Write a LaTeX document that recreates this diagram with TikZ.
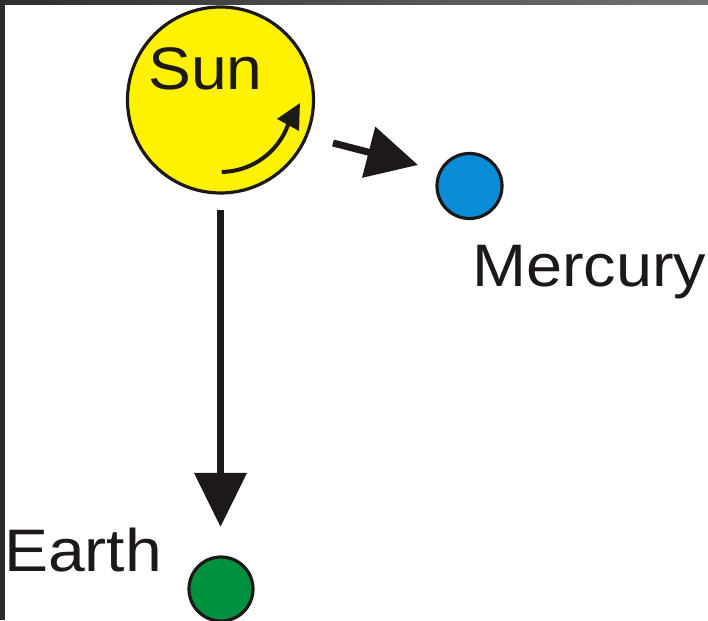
\documentclass[tikz,border=0pt]{standalone}
\usepackage{fontspec}
\usepackage{graphicx}
\setmainfont{Liberation Sans}
\usetikzlibrary{arrows.meta,calc}
\definecolor{sunyellow}{RGB}{255,242,0}
\definecolor{mercblue}{RGB}{10,140,215}
\definecolor{earthgreen}{RGB}{0,145,64}
\definecolor{inkblack}{RGB}{30,25,25}
\begin{document}
\begin{tikzpicture}[x=1pt,y=1pt,
  body/.style={circle,draw=inkblack,line width=3.2pt,inner sep=0pt},
  lbl/.style={inner sep=0pt,anchor=base west,text=inkblack,font=\fontsize{60}{72}\selectfont},
  bigarrow/.style={draw=inkblack,line width=7pt,-{Triangle[length=#1,width=51pt]}}
]
\useasboundingbox (0,0) rectangle (708,620);
\fill[white] (0,0) rectangle (708,620);
% screenshot frame
\shade[left color=black!82,right color=black!55] (0,615) rectangle (708,620);
\fill[black!83] (0,0) rectangle (5,620);
% bodies
\node[body,fill=sunyellow,minimum size=186pt] (sun) at (220.5,520) {};
\node[body,fill=mercblue,minimum size=65pt] (mercury) at (469.5,434) {};
\node[body,fill=earthgreen,minimum size=64pt] (earth) at (221,31) {};
% labels
\node[lbl] (sunlbl) at (148,530) {\scalebox{1.07}[1]{Sun}};
\node[lbl] (merclbl) at (472,333) {\scalebox{1.08}[1]{Mercury}};
\node[lbl] (earthlbl) at (4,48) {\scalebox{1.1}[1]{Earth}};
% rotation arrow inside the sun
\coordinate (rotstart) at ($(sun.center)+(-89:72pt)$);
\coordinate (rottip) at (300,517);
\draw[inkblack,line width=4pt,-{Triangle[length=25pt,width=24pt]}]
  (rotstart) arc[start angle=-89,end angle=-20,radius=72pt] -- (rottip);
% motion arrows
\coordinate (ma) at (333,477);
\coordinate (mb) at (418,455);
\coordinate (ea) at (220.5,410);
\coordinate (eb) at (220.5,93);
\draw[bigarrow=51pt] (ma) -- (mb);
\draw[bigarrow=54pt] (ea) -- (eb);
\end{tikzpicture}
\end{document}
